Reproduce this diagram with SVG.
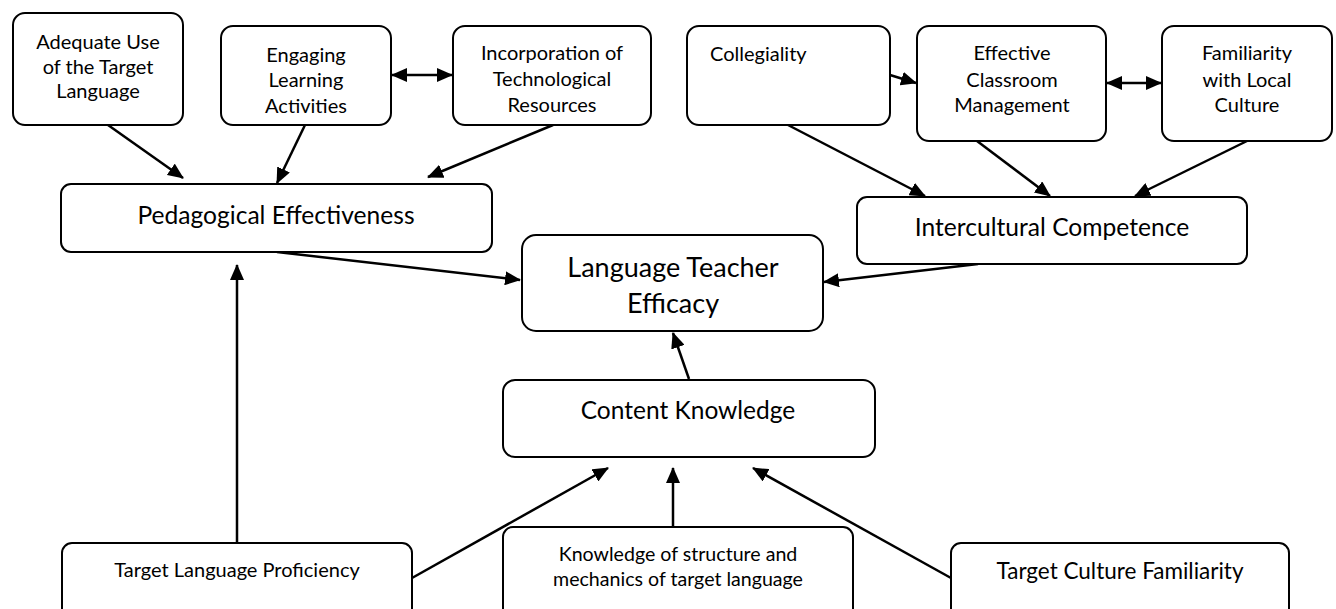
<svg xmlns="http://www.w3.org/2000/svg" width="1336" height="609" viewBox="0 0 1336 609">
<style>
  .box { fill: #ffffff; stroke: #000000; stroke-width: 2; }
  .t { font-family: Lato, "Liberation Sans", sans-serif; fill: #000000; text-anchor: middle; }
  .s { font-size: 20px; }
  .m { font-size: 24.6px; }
  .l { font-size: 27px; }
  .ck { font-size: 24.5px; }
  .b { font-size: 20px; }
  .b2 { font-size: 22.5px; }
  .k { font-size: 19.6px; }
  .c { fill: none; stroke: #000000; stroke-width: 2.5; marker-end: url(#ah); }
  .d { marker-start: url(#ah); }
</style>
<defs>
  <marker id="ah" markerUnits="userSpaceOnUse" markerWidth="16" markerHeight="14" refX="15" refY="7" orient="auto-start-reverse" viewBox="0 0 16 14">
    <path d="M0,0 L16,7 L0,14 z" fill="#000000"/>
  </marker>
</defs>
<rect x="0" y="0" width="1336" height="609" fill="#ffffff"/>

<g id="connectors">
  <line class="c" x1="108" y1="125" x2="183" y2="178"/>
  <line class="c" x1="305" y1="125" x2="277" y2="183"/>
  <line class="c" x1="553" y1="125" x2="428" y2="177"/>
  <line class="c d" x1="392" y1="75" x2="452" y2="75"/>
  <line class="c" x1="890" y1="75" x2="916" y2="83"/>
  <line class="c d" x1="1107" y1="83" x2="1161" y2="83"/>
  <line class="c" x1="788" y1="125" x2="925" y2="196"/>
  <line class="c" x1="977" y1="141" x2="1050" y2="196"/>
  <line class="c" x1="1247" y1="141" x2="1135" y2="196"/>
  <line class="c" x1="277" y1="252" x2="520" y2="280"/>
  <line class="c" x1="978" y1="264" x2="824" y2="282"/>
  <line class="c" x1="689" y1="379" x2="673" y2="333"/>
  <line class="c" x1="237" y1="543" x2="237" y2="265"/>
  <line class="c" x1="412" y1="578" x2="608" y2="468"/>
  <line class="c" x1="673" y1="527" x2="673" y2="468"/>
  <line class="c" x1="951" y1="578" x2="753" y2="468"/>
</g>

<g id="adequate">
  <rect class="box" x="13" y="13" width="170" height="112" rx="12"/>
  <text class="t s" x="98" y="49">Adequate Use</text>
  <text class="t s" x="98" y="74">of the Target</text>
  <text class="t s" x="98" y="98">Language</text>
</g>
<g id="engaging">
  <rect class="box" x="221" y="26" width="170" height="99" rx="12"/>
  <text class="t s" x="306" y="62">Engaging</text>
  <text class="t s" x="306" y="87">Learning</text>
  <text class="t s" x="306" y="113">Activities</text>
</g>
<g id="incorporation">
  <rect class="box" x="453" y="26" width="198" height="99" rx="12"/>
  <text class="t s" x="552" y="60">Incorporation of</text>
  <text class="t s" x="552" y="86">Technological</text>
  <text class="t s" x="552" y="112">Resources</text>
</g>
<g id="collegiality">
  <rect class="box" x="687" y="26" width="203" height="99" rx="12"/>
  <text class="t s" x="710" y="61" style="text-anchor:start">Collegiality</text>
</g>
<g id="effective">
  <rect class="box" x="917" y="26" width="189" height="115" rx="12"/>
  <text class="t s" x="1012" y="60">Effective</text>
  <text class="t s" x="1012" y="87">Classroom</text>
  <text class="t s" x="1012" y="112">Management</text>
</g>
<g id="familiarity">
  <rect class="box" x="1162" y="26" width="170" height="115" rx="12"/>
  <text class="t s" x="1247" y="60">Familiarity</text>
  <text class="t s" x="1247" y="87">with Local</text>
  <text class="t s" x="1247" y="112">Culture</text>
</g>
<g id="pedagogical">
  <rect class="box" x="61" y="184" width="431" height="68" rx="10"/>
  <text class="t m" x="276" y="224">Pedagogical Effectiveness</text>
</g>
<g id="intercultural">
  <rect class="box" x="857" y="197" width="390" height="67" rx="10"/>
  <text class="t m" x="1052" y="236">Intercultural Competence</text>
</g>
<g id="efficacy">
  <rect class="box" x="522" y="235" width="301" height="96" rx="14"/>
  <text class="t l" x="673" y="277">Language Teacher</text>
  <text class="t l" x="673" y="313">Efficacy</text>
</g>
<g id="content">
  <rect class="box" x="503" y="380" width="372" height="77" rx="12"/>
  <text class="t ck" x="688" y="419">Content Knowledge</text>
</g>
<g id="proficiency">
  <rect class="box" x="62" y="543" width="350" height="80" rx="10"/>
  <text class="t b" x="237" y="577">Target Language Proficiency</text>
</g>
<g id="structure">
  <rect class="box" x="503" y="527" width="350" height="96" rx="10"/>
  <text class="t k" x="678" y="561">Knowledge of structure and</text>
  <text class="t k" x="678" y="586">mechanics of target language</text>
</g>
<g id="culture">
  <rect class="box" x="951" y="543" width="338" height="80" rx="10"/>
  <text class="t b2" x="1120" y="579">Target Culture Familiarity</text>
</g>
</svg>
